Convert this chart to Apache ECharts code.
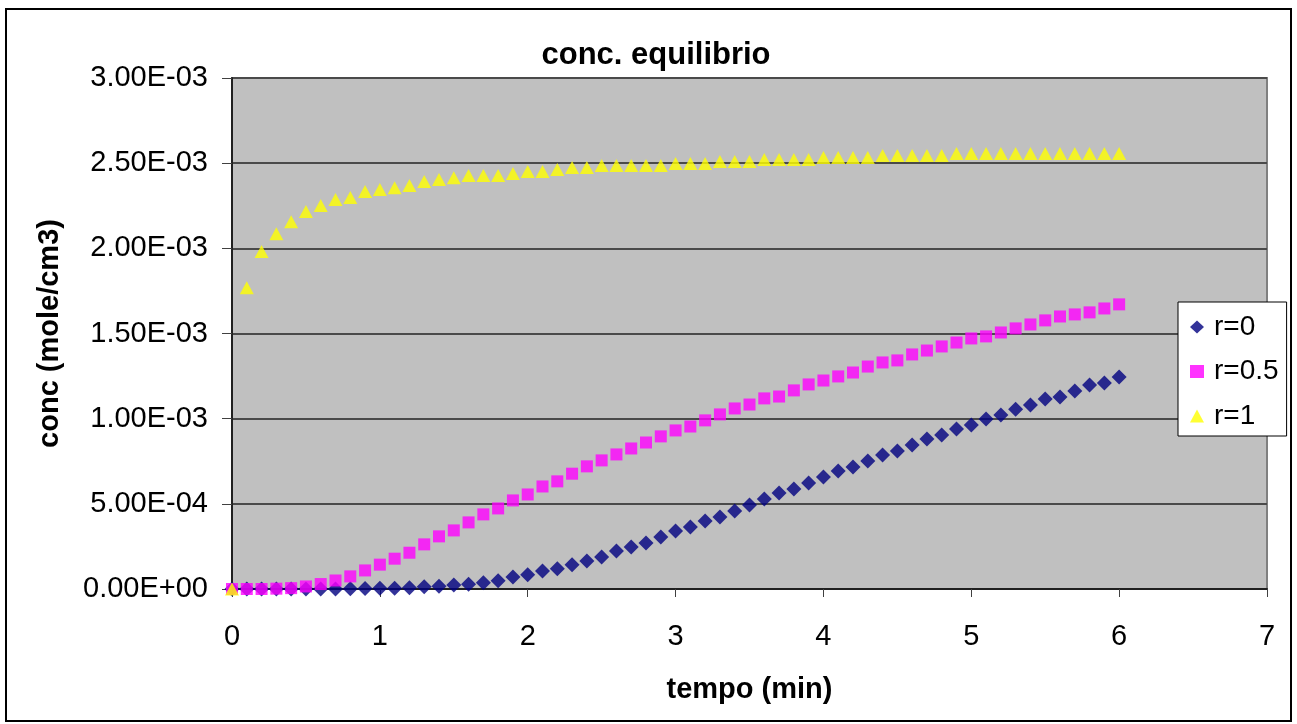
<!DOCTYPE html>
<html>
<head>
<meta charset="utf-8">
<title>conc. equilibrio</title>
<script src="https://cdn.jsdelivr.net/npm/echarts@6/dist/echarts.min.js"></script>
<style>
  html, body { margin: 0; padding: 0; background: #ffffff; }
  #chart { width: 1297px; height: 724px; }
</style>
</head>
<body>
<div id="chart"></div>
<script>
// time axis (min)
const tempo = [
  0.0, 0.1, 0.2, 0.3, 0.4, 0.5, 0.6, 0.7, 0.8, 0.9,
  1.0, 1.1, 1.2, 1.3, 1.4, 1.5, 1.6, 1.7, 1.8, 1.9,
  2.0, 2.1, 2.2, 2.3, 2.4, 2.5, 2.6, 2.7, 2.8, 2.9,
  3.0, 3.1, 3.2, 3.3, 3.4, 3.5, 3.6, 3.7, 3.8, 3.9,
  4.0, 4.1, 4.2, 4.3, 4.4, 4.5, 4.6, 4.7, 4.8, 4.9,
  5.0, 5.1, 5.2, 5.3, 5.4, 5.5, 5.6, 5.7, 5.8, 5.9,
  6.0
];

// equilibrium concentration (mole/cm3), r = 0
const concR0 = [
  0, 0, 0, 0, 0, 0, 0, 0, 0.000002, 0.000003,
  0.000004, 0.000005, 0.000007, 0.000013, 0.000016, 0.000024, 0.000028, 0.000037, 0.000049, 0.000070,
  0.000084, 0.000105, 0.000119, 0.000143, 0.000164, 0.000188, 0.000223, 0.000246, 0.000270, 0.000305,
  0.000340, 0.000364, 0.000399, 0.000423, 0.000458, 0.000493, 0.000528, 0.000563, 0.000587, 0.000622,
  0.000657, 0.000693, 0.000716, 0.000751, 0.000786, 0.000810, 0.000845, 0.000880, 0.000904, 0.000939,
  0.000963, 0.000998, 0.001021, 0.001056, 0.001080, 0.001115, 0.001127, 0.001162, 0.001197, 0.001209,
  0.001244
];

// r = 0.5
const concR05 = [
  0, 0, 0, 0.000002, 0.000005, 0.000015, 0.000029, 0.000050, 0.000074, 0.000109,
  0.000143, 0.000178, 0.000213, 0.000262, 0.000309, 0.000344, 0.000391, 0.000438, 0.000473, 0.000520,
  0.000555, 0.000602, 0.000632, 0.000677, 0.000720, 0.000755, 0.000790, 0.000825, 0.000860, 0.000896,
  0.000931, 0.000954, 0.000990, 0.001025, 0.001060, 0.001083, 0.001119, 0.001130, 0.001166, 0.001201,
  0.001224, 0.001248, 0.001271, 0.001306, 0.001330, 0.001342, 0.001377, 0.001400, 0.001424, 0.001447,
  0.001471, 0.001483, 0.001506, 0.001530, 0.001553, 0.001577, 0.001600, 0.001612, 0.001624, 0.001647,
  0.001671
];

// r = 1
const concR1 = [
  0, 0.001768, 0.001981, 0.002085, 0.002156, 0.002216, 0.002251, 0.002287, 0.002298, 0.002334,
  0.002345, 0.002355, 0.002369, 0.002392, 0.002404, 0.002414, 0.002427, 0.002427, 0.002427, 0.002439,
  0.002451, 0.002451, 0.002463, 0.002474, 0.002474, 0.002486, 0.002486, 0.002486, 0.002486, 0.002486,
  0.002498, 0.002498, 0.002498, 0.002510, 0.002510, 0.002510, 0.002521, 0.002521, 0.002521, 0.002521,
  0.002533, 0.002533, 0.002533, 0.002533, 0.002545, 0.002545, 0.002545, 0.002545, 0.002545, 0.002557,
  0.002557, 0.002557, 0.002557, 0.002557, 0.002557, 0.002557, 0.002557, 0.002557, 0.002557, 0.002557,
  0.002557
];

const seriesNames = ['r=0', 'r=0.5', 'r=1'];
const titleText = 'conc. equilibrio';
const xTitle = 'tempo (min)';
const yTitle = 'conc (mole/cm3)';

const FONT = '"Liberation Sans", Arial, sans-serif';

function pairs(ys) {
  return tempo.map((t, i) => [t, ys[i]]);
}

// scientific labels like 2.50E-03
function sciLabel(v) {
  const parts = Number(v).toExponential(2).split('e');
  const exp = parseInt(parts[1], 10);
  const sign = exp < 0 ? '-' : '+';
  const digits = String(Math.abs(exp)).padStart(2, '0');
  return parts[0] + 'E' + sign + digits;
}

const chart = echarts.init(document.getElementById('chart'), null, { renderer: 'canvas' });

chart.setOption({
  animation: false,
  backgroundColor: '#ffffff',
  textStyle: { fontFamily: FONT },
  title: {
    text: titleText,
    left: 651,
    textAlign: 'center',
    top: 35,
    textStyle: { fontFamily: FONT, fontWeight: 'bold', fontSize: 31, color: '#000' }
  },
  graphic: [{
    type: 'rect',
    shape: { x: 6, y: 9, width: 1285, height: 712 },
    style: { fill: 'none', stroke: '#000', lineWidth: 2 },
    z: 100
  }],
  grid: {
    left: 232,
    top: 78,
    width: 1035,
    height: 511,
    show: true,
    backgroundColor: '#C0C0C0',
    borderColor: '#808080',
    borderWidth: 2
  },
  legend: {
    orient: 'vertical',
    left: 1178,
    top: 302,
    data: [
      { name: seriesNames[0], icon: 'diamond' },
      { name: seriesNames[1], icon: 'rect' },
      { name: seriesNames[2], icon: 'triangle' }
    ],
    itemWidth: 14,
    itemHeight: 13,
    itemGap: 14.5,
    padding: [10, 8, 5, 12],
    backgroundColor: '#ffffff',
    borderColor: '#000000',
    borderWidth: 1,
    borderRadius: 0,
    textStyle: { fontFamily: FONT, fontSize: 28, color: '#000', lineHeight: 30, padding: [0, 0, 0, 5] }
  },
  xAxis: {
    type: 'value',
    min: 0,
    max: 7,
    interval: 1,
    name: xTitle,
    nameLocation: 'middle',
    nameGap: 86,
    nameTextStyle: { fontFamily: FONT, fontWeight: 'bold', fontSize: 29, color: '#000' },
    axisLine: { show: true, onZero: false, lineStyle: { color: '#202020', width: 2 } },
    axisTick: { show: true, inside: false, length: 8, lineStyle: { color: '#404040', width: 1 } },
    axisLabel: { fontFamily: FONT, fontSize: 29, color: '#000', margin: 33 },
    splitLine: { show: false }
  },
  yAxis: {
    type: 'value',
    min: 0,
    max: 0.003,
    interval: 0.0005,
    name: yTitle,
    nameLocation: 'middle',
    nameGap: 168,
    nameRotate: 90,
    nameTextStyle: { fontFamily: FONT, fontWeight: 'bold', fontSize: 29, color: '#000' },
    axisLine: { show: true, onZero: false, lineStyle: { color: '#202020', width: 2 } },
    axisTick: { show: true, inside: false, length: 10, lineStyle: { color: '#404040', width: 1 } },
    axisLabel: { fontFamily: FONT, fontSize: 29, color: '#000', margin: 24, formatter: sciLabel },
    splitLine: { show: true, lineStyle: { color: '#4a4a4a', width: 2 } }
  },
  series: [
    {
      name: seriesNames[0],
      type: 'scatter',
      symbol: 'diamond',
      symbolSize: [15, 15],
      itemStyle: { color: '#000080' },
      data: pairs(concR0),
      z: 2
    },
    {
      name: seriesNames[1],
      type: 'scatter',
      symbol: 'rect',
      symbolSize: [12, 12],
      itemStyle: { color: '#FF00FF' },
      data: pairs(concR05),
      z: 3
    },
    {
      name: seriesNames[2],
      type: 'scatter',
      symbol: 'triangle',
      symbolSize: [14, 13],
      itemStyle: { color: '#FFFF00' },
      data: pairs(concR1),
      z: 4
    }
  ]
});
</script>
</body>
</html>
